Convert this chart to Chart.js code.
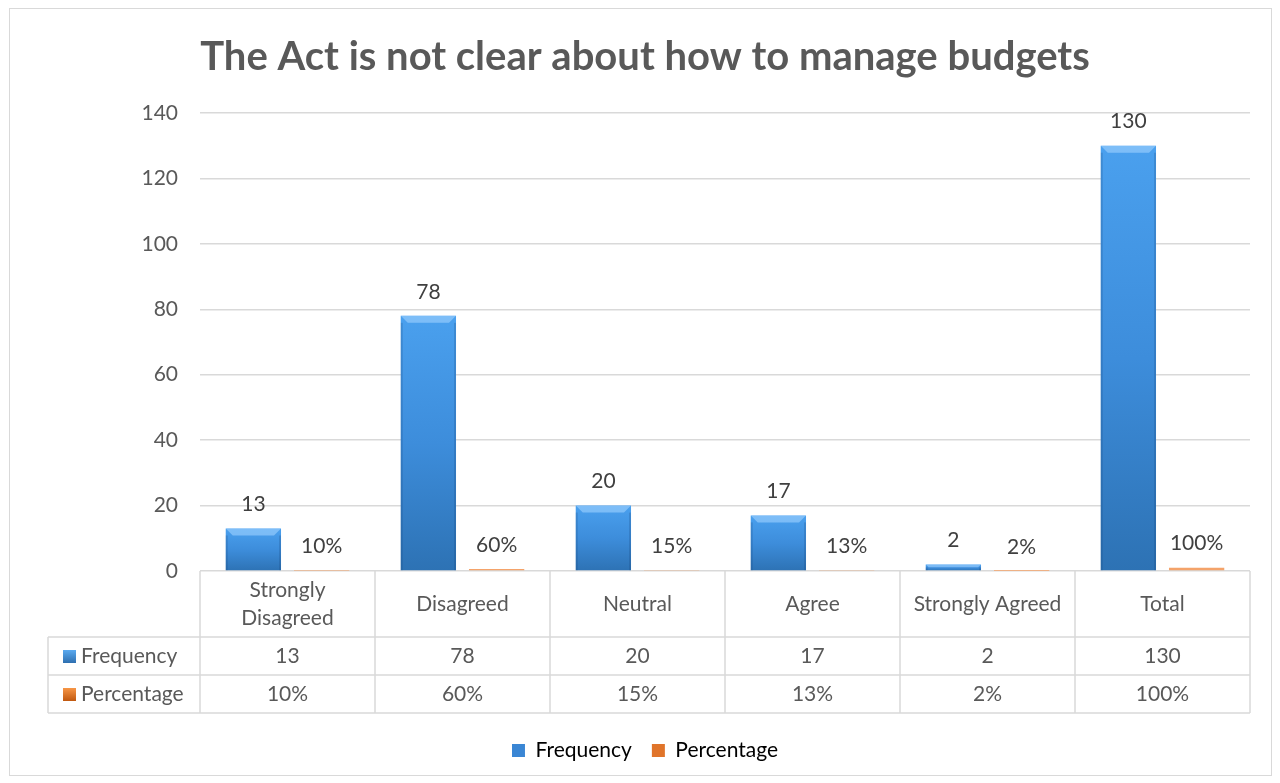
<!DOCTYPE html>
<html>
<head>
<meta charset="utf-8">
<script src="https://cdn.jsdelivr.net/npm/chart.js@4.4.0/dist/chart.umd.min.js"></script>
<style>
  html, body { margin: 0; padding: 0; background: #ffffff; }
  #wrap { width: 1280px; height: 783px; position: relative; }
</style>
</head>
<body>
<div id="wrap"><canvas id="myChart" width="1280" height="783"></canvas></div>
<script>
// Chart data
const categories = ['Strongly Disagreed', 'Disagreed', 'Neutral', 'Agree', 'Strongly Agreed', 'Total'];
const categoryLines = [['Strongly', 'Disagreed'], ['Disagreed'], ['Neutral'], ['Agree'], ['Strongly Agreed'], ['Total']];
const frequency = [13, 78, 20, 17, 2, 130];
const percentage = [0.10, 0.60, 0.15, 0.13, 0.02, 1.00];
const yTicks = [0, 20, 40, 60, 80, 100, 120, 140];

const FONT = 'Lato, "Open Sans", sans-serif';
const GREY = '#595959';
const LINE = '#d9d9d9';

const pctText = v => Math.round(v * 100) + '%';

// vertical gradient per bar, from the y scale
function barGradient(light, dark) {
    return function (c) {
        const y = c.chart.scales.y;
        if (!y || c.raw === undefined) return dark;
        const top = y.getPixelForValue(c.raw);
        const bottom = y.getPixelForValue(0);
        const g = c.chart.ctx.createLinearGradient(0, top, 0, bottom + 0.01);
        g.addColorStop(0, light);
        g.addColorStop(0.5, '#3d8ddb');
        g.addColorStop(1, dark);
        return g;
    };
}

// frame around the whole chart
const framePlugin = {
    id: 'frame',
    beforeDraw(chart) {
        const ctx = chart.ctx;
        ctx.save();
        ctx.strokeStyle = LINE;
        ctx.lineWidth = 1;
        ctx.strokeRect(9.5, 8.5, 1262, 767);
        ctx.restore();
    }
};

// value labels + bevel on top of bars
const labelPlugin = {
    id: 'barLabels',
    afterDatasetsDraw(chart) {
        const ctx = chart.ctx;
        ctx.save();
        const meta0 = chart.getDatasetMeta(0);
        meta0.data.forEach(bar => {
            const w = bar.width;
            const x0 = bar.x - w / 2, x1 = bar.x + w / 2;
            const h = Math.min(7, (bar.base - bar.y) / 2);
            ctx.fillStyle = 'rgba(160,210,255,0.6)';
            ctx.beginPath();
            ctx.moveTo(x0, bar.y);
            ctx.lineTo(x1, bar.y);
            ctx.lineTo(x1 - h, bar.y + h);
            ctx.lineTo(x0 + h, bar.y + h);
            ctx.closePath();
            ctx.fill();
            ctx.fillStyle = 'rgba(20,60,110,0.2)';
            ctx.fillRect(x0, bar.y + h, 2, bar.base - bar.y - h);
            ctx.fillRect(x1 - 2, bar.y + h, 2, bar.base - bar.y - h);
        });
        ctx.font = '21px ' + FONT;
        ctx.fillStyle = '#404040';
        ctx.textAlign = 'center';
        ctx.textBaseline = 'middle';
        chart.data.datasets.forEach((ds, di) => {
            chart.getDatasetMeta(di).data.forEach((bar, i) => {
                const v = ds.data[i];
                const txt = di === 0 ? String(v) : pctText(v);
                ctx.fillText(txt, bar.x, bar.y - 24);
            });
        });
        ctx.restore();
    }
};

// data table under the plot
const tablePlugin = {
    id: 'dataTable',
    afterDraw(chart) {
        const ctx = chart.ctx;
        const x = chart.scales.x;
        const area = chart.chartArea;
        const r0 = area.bottom, r1 = r0 + 66, r2 = r1 + 38, r3 = r2 + 38;
        const left = 48;
        const half = (x.getPixelForValue(1) - x.getPixelForValue(0)) / 2;
        ctx.save();
        ctx.strokeStyle = LINE;
        ctx.lineWidth = 1.5;
        ctx.beginPath();
        [r1, r2, r3].forEach(yy => { ctx.moveTo(left, yy); ctx.lineTo(area.right, yy); });
        ctx.moveTo(left, r1); ctx.lineTo(left, r3);
        for (let i = 0; i <= categories.length; i++) {
            const bx = x.getPixelForValue(0) - half + i * 2 * half;
            ctx.moveTo(bx, r0); ctx.lineTo(bx, r3);
        }
        ctx.stroke();

        ctx.font = '21px ' + FONT;
        ctx.fillStyle = GREY;
        ctx.textAlign = 'center';
        ctx.textBaseline = 'middle';
        categories.forEach((c, i) => {
            const cx = x.getPixelForValue(i);
            const lines = categoryLines[i];
            const mid = (r0 + r1) / 2;
            lines.forEach((ln, k) => {
                ctx.fillText(ln, cx, mid + (k - (lines.length - 1) / 2) * 28);
            });
            ctx.fillText(String(frequency[i]), cx, (r1 + r2) / 2);
            ctx.fillText(pctText(percentage[i]), cx, (r2 + r3) / 2);
        });

        // row headers with keys
        const rows = [
            { name: 'Frequency', y: (r1 + r2) / 2, light: '#5aaaf0', dark: '#2e6fb0' },
            { name: 'Percentage', y: (r2 + r3) / 2, light: '#f79646', dark: '#c0580f' }
        ];
        ctx.textAlign = 'left';
        rows.forEach(r => {
            const g = ctx.createLinearGradient(0, r.y - 6, 0, r.y + 7);
            g.addColorStop(0, r.light);
            g.addColorStop(1, r.dark);
            ctx.fillStyle = g;
            ctx.fillRect(63, r.y - 6, 13, 13);
            ctx.fillStyle = GREY;
            ctx.fillText(r.name, 81, r.y);
        });
        ctx.restore();
    }
};

const data = {
    labels: categories,
    datasets: [{
        label: 'Frequency',
        data: frequency,
        backgroundColor: barGradient('#4aa0ee', '#2d72b4'),
        borderWidth: 0,
        categoryPercentage: 0.78,
        barPercentage: 0.81,
    }, {
        label: 'Percentage',
        data: percentage,
        backgroundColor: '#f4a36a',
        borderWidth: 0,
        categoryPercentage: 0.78,
        barPercentage: 0.81,
    }],
};

const options = {
    responsive: false,
    animation: false,
    layout: { padding: { left: 40, right: 30, top: 0, bottom: 12 } },
    plugins: {
        title: {
            display: true,
            text: 'The Act is not clear about how to manage budgets',
            color: GREY,
            font: { family: FONT, size: 40, weight: 'bold' },
            padding: { top: 33, bottom: 32 },
        },
        legend: {
            position: 'bottom',
            labels: {
                color: GREY,
                font: { family: FONT, size: 21 },
                boxWidth: 13,
                boxHeight: 13,
                padding: 20,
                generateLabels: () => [
                    { text: 'Frequency', fillStyle: '#3a86d4', strokeStyle: '#3a86d4', lineWidth: 0, datasetIndex: 0 },
                    { text: 'Percentage', fillStyle: '#e0742a', strokeStyle: '#e0742a', lineWidth: 0, datasetIndex: 1 },
                ],
            },
        },
        tooltip: { enabled: false },
    },
    scales: {
        x: {
            grid: { display: false },
            border: { display: false },
            ticks: { display: false },
            afterFit: s => { s.height = 149; },
        },
        y: {
            min: 0,
            max: 140,
            afterFit: s => { s.width = 160; },
            afterBuildTicks: s => { s.ticks = yTicks.map(v => ({ value: v })); },
            grid: { color: LINE, lineWidth: 1.5, drawTicks: false },
            border: { display: false },
            ticks: {
                color: GREY,
                font: { family: FONT, size: 21 },
                padding: 22,
            },
        },
    },
};

const ctx = document.getElementById('myChart').getContext('2d');
const myChart = new Chart(ctx, {
    type: 'bar',
    data: data,
    options: options,
    plugins: [framePlugin, labelPlugin, tablePlugin],
});
</script>
</body>
</html>
